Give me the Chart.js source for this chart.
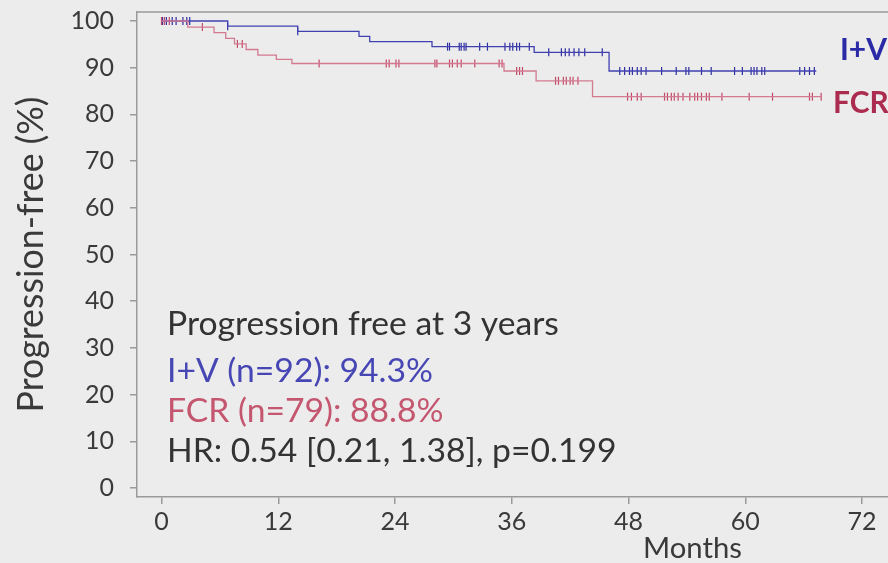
<!DOCTYPE html>
<html>
<head>
<meta charset="utf-8">
<script src="https://cdn.jsdelivr.net/npm/chart.js"></script>
<style>
  html, body { margin: 0; padding: 0; background: #ececec; }
  canvas { display: block; }
</style>
</head>
<body>
<canvas id="km" width="888" height="563"></canvas>

<script>
// Kaplan-Meier steps (months, % progression free)
const ivTimes = [0, 6.8, 14.0, 20.3, 21.4, 27.8, 38.3, 46.0, 67.3];
const ivSurv  = [100, 98.9, 97.8, 96.7, 95.6, 94.5, 93.3, 89.3, 89.3];
const ivCensor = [0.1, 0.5, 1.1, 1.5, 2.2, 2.6, 2.9, 6.8, 14.0,
  29.4, 29.6, 30.6, 30.8, 31.1, 31.3, 32.7, 33.5, 35.3, 35.8, 36.1, 36.5, 36.8, 37.8,
  39.8, 41.1, 41.5, 41.9, 42.4, 42.9, 43.5, 45.3,
  47.1, 47.6, 48.1, 48.4, 48.9, 49.3, 49.8, 51.4, 52.9, 53.9, 54.2, 55.5, 56.5,
  58.9, 59.7, 60.6, 60.9, 61.2, 61.7, 62.0, 65.6, 66.1, 66.6, 67.1];

const fcrTimes = [0, 2.7, 5.4, 6.6, 7.5, 8.7, 9.9, 11.8, 13.4, 35.2, 38.5, 44.3, 67.9];
const fcrSurv  = [100, 98.7, 97.5, 96.3, 95.1, 93.9, 92.7, 91.8, 90.9, 89.3, 87.2, 83.8, 83.8];
const fcrCensor = [0.0, 0.3, 0.8, 4.2, 7.8, 8.3, 16.2,
  23.1, 23.4, 24.1, 24.4, 28.1, 28.3, 29.6, 29.9, 30.4, 30.8, 32.2, 34.7, 35.0,
  36.5, 36.8, 37.1, 40.5, 40.8, 41.3, 41.6, 42.0, 42.3, 42.8,
  47.9, 48.3, 48.9, 49.3, 51.7, 52.0, 52.4, 52.7, 53.1, 53.6, 54.3, 54.8, 55.1,
  55.5, 56.0, 56.3, 57.6, 60.4, 62.8, 66.6, 66.9, 67.8];

const xTicks = [0, 12, 24, 36, 48, 60, 72];
const yTicks = [0, 10, 20, 30, 40, 50, 60, 70, 80, 90, 100];

const notes = [
  ['Progression free at 3 years', '#333333'],
  ['I+V (n=92): 94.3%', '#4646b4'],
  ['FCR (n=79): 88.8%', '#c4566f'],
  ['HR: 0.54 [0.21, 1.38], p=0.199', '#333333']
];

const FONT = 'Lato';
const BLUE = '#4040b0', BLUE_DARK = '#2e2ea2';
const RED = '#d27a90', RED_DARK = '#c24a68';

function stepPoints(times, surv) {
  return times.map((t, i) => ({x: t, y: surv[i]}));
}
function survAt(times, surv, t) {
  let v = surv[0];
  for (let i = 0; i < times.length; i++) if (times[i] <= t) v = surv[i];
  return v;
}
function censorPoints(times, surv, cens) {
  return cens.map(t => ({x: t, y: survAt(times, surv, t)}));
}

// font size that makes a string a given width
const mctx = document.createElement('canvas').getContext('2d');
function fitSize(text, weight, width) {
  mctx.font = weight + ' 40px ' + FONT;
  return 40 * width / mctx.measureText(text).width;
}
const titleSize = fitSize('Progression-free (%)', 'normal', 316);
const noteSize = fitSize(notes[0][0], 'normal', 392);
const monthsSize = fitSize('Months', 'normal', 99);
const tagSize = fitSize('I+V', 'bold', 47);

const bgPlugin = {
  id: 'bg',
  beforeDraw(chart) {
    const c = chart.ctx;
    c.save();
    c.fillStyle = '#ececec';
    c.fillRect(0, 0, chart.width, chart.height);
    c.restore();
  }
};

const textPlugin = {
  id: 'texts',
  afterDraw(chart) {
    const c = chart.ctx, a = chart.chartArea;
    c.save();
    // top frame line
    c.strokeStyle = '#9a9a9a';
    c.lineWidth = 1.5;
    c.beginPath();
    c.moveTo(a.left, a.top);
    c.lineTo(a.right, a.top);
    c.stroke();

    c.textBaseline = 'alphabetic';
    c.textAlign = 'left';
    c.font = noteSize + 'px ' + FONT;
    const base = [335, 382, 422, 462];
    notes.forEach((n, i) => {
      c.fillStyle = n[1];
      c.fillText(n[0], 167, base[i]);
    });

    c.fillStyle = '#3a3a3a';
    c.font = monthsSize + 'px ' + FONT;
    c.fillText('Months', 643, 558);

    c.font = 'bold ' + tagSize + 'px ' + FONT;
    c.fillStyle = '#2a2aa6';
    c.fillText('I+V', 840, 60);
    c.fillStyle = '#ac2c50';
    c.fillText('FCR', 833, 113);
    c.restore();
  }
};

const chart = new Chart(document.getElementById('km'), {
  type: 'line',
  data: {
    datasets: [
      {data: stepPoints(fcrTimes, fcrSurv), borderColor: RED, borderWidth: 1.3,
       stepped: 'before', pointRadius: 0, fill: false},
      {data: stepPoints(ivTimes, ivSurv), borderColor: BLUE, borderWidth: 1.3,
       stepped: 'before', pointRadius: 0, fill: false},
      {data: censorPoints(fcrTimes, fcrSurv, fcrCensor), showLine: false,
       pointStyle: 'line', rotation: 90, pointRadius: 4, borderColor: RED_DARK, borderWidth: 1.2},
      {data: censorPoints(ivTimes, ivSurv, ivCensor), showLine: false,
       pointStyle: 'line', rotation: 90, pointRadius: 4, borderColor: BLUE_DARK, borderWidth: 1.2}
    ]
  },
  options: {
    responsive: false,
    animation: false,
    devicePixelRatio: 1,
    layout: {autoPadding: false, padding: {top: 12, left: 0, right: 0, bottom: 0}},
    plugins: {legend: {display: false}, tooltip: {enabled: false}},
    scales: {
      x: {
        type: 'linear',
        min: -2.52, max: 74.67,
        afterBuildTicks: s => { s.ticks = xTicks.map(v => ({value: v})); },
        afterFit: s => { s.height = 66; s.paddingLeft = 0; s.paddingRight = 0; },
        grid: {drawOnChartArea: false, drawTicks: true, tickLength: 7, color: '#9a9a9a', lineWidth: 1.5},
        border: {color: '#9a9a9a', width: 1.5},
        ticks: {font: {family: FONT, size: 25}, color: '#3a3a3a', padding: 3,
                maxRotation: 0, autoSkip: false}
      },
      y: {
        type: 'linear',
        min: -1.93, max: 101.93,
        afterBuildTicks: s => { s.ticks = yTicks.map(v => ({value: v})); },
        afterFit: s => { s.width = 137; s.paddingTop = 0; s.paddingBottom = 0; },
        grid: {drawOnChartArea: false, drawTicks: true, tickLength: 7, color: '#9a9a9a', lineWidth: 1.5},
        border: {color: '#9a9a9a', width: 1.5},
        ticks: {font: {family: FONT, size: 25}, color: '#3a3a3a', padding: 16, autoSkip: false},
        title: {display: true, text: 'Progression-free (%)', color: '#3a3a3a',
                font: {family: FONT, size: titleSize, lineHeight: 1},
                padding: {top: 31 - titleSize / 2, bottom: 0}}
      }
    }
  },
  plugins: [bgPlugin, textPlugin]
});
</script>
</body>
</html>
